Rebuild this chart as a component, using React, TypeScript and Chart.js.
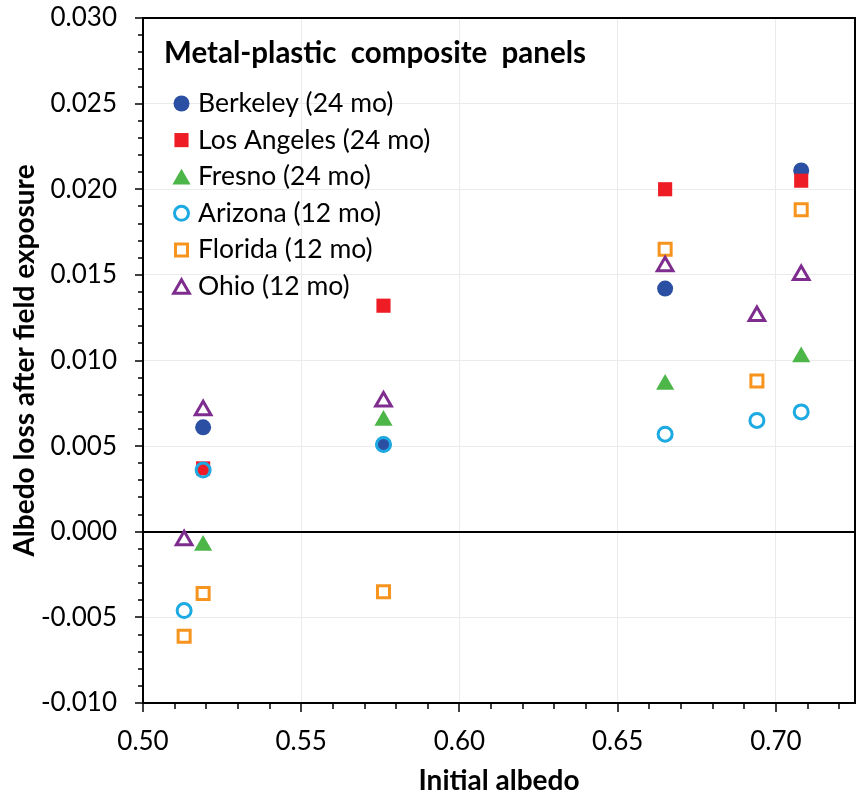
import React, { useEffect, useRef } from 'react';
import { Chart, registerables } from 'chart.js';

Chart.register(...registerables);

// Series labels, in legend order
const seriesNames = [
  'Berkeley (24 mo)',
  'Los Angeles (24 mo)',
  'Fresno (24 mo)',
  'Arizona (12 mo)',
  'Florida (12 mo)',
  'Ohio (12 mo)',
];

// Initial albedo (x) and albedo loss after exposure (y) per site
const berkeleyX = [0.519, 0.576, 0.665, 0.708];
const berkeleyY = [0.0061, 0.0051, 0.0142, 0.0211];

const losAngelesX = [0.519, 0.576, 0.665, 0.708];
const losAngelesY = [0.0037, 0.0132, 0.02, 0.0205];

const fresnoX = [0.519, 0.576, 0.665, 0.708];
const fresnoY = [-0.0008, 0.0065, 0.0086, 0.0102];

const arizonaX = [0.513, 0.519, 0.576, 0.665, 0.694, 0.708];
const arizonaY = [-0.0046, 0.0036, 0.0051, 0.0057, 0.0065, 0.007];

const floridaX = [0.513, 0.519, 0.576, 0.665, 0.694, 0.708];
const floridaY = [-0.0061, -0.0036, -0.0035, 0.0165, 0.0088, 0.0188];

const ohioX = [0.513, 0.519, 0.576, 0.665, 0.694, 0.708];
const ohioY = [-0.0005, 0.0071, 0.0076, 0.0155, 0.0126, 0.015];

const legendTitle = 'Metal-plastic  composite  panels';
const xTitle = 'Initial albedo';
const yTitle = 'Albedo loss after field exposure';

const FONT = 'Lato';

type MarkerStyle = 'circle' | 'rect' | 'triangle';
interface Marker {
  style: MarkerStyle;
  color: string;
  filled: boolean;
  radius: number;
}

const markers: Marker[] = [
  { style: 'circle', color: '#2B4FA2', filled: true, radius: 8 },
  { style: 'rect', color: '#EE1D25', filled: true, radius: 10 },
  { style: 'triangle', color: '#4CB748', filled: true, radius: 10.5 },
  { style: 'circle', color: '#1DA9E1', filled: false, radius: 7 },
  { style: 'rect', color: '#F7941E', filled: false, radius: 8.5 },
  { style: 'triangle', color: '#7E2C8E', filled: false, radius: 9 },
];
const OPEN_STROKE = 3;

const seriesX = [berkeleyX, losAngelesX, fresnoX, arizonaX, floridaX, ohioX];
const seriesY = [berkeleyY, losAngelesY, fresnoY, arizonaY, floridaY, ohioY];

const isMajorX = (v: number) => Math.round(v * 100) % 5 === 0;
const isMajorY = (v: number) => Math.round(v * 1000) % 5 === 0;

function drawMarker(ctx: CanvasRenderingContext2D, m: Marker, x: number, y: number) {
  const r = m.radius;
  ctx.beginPath();
  if (m.style === 'circle') {
    ctx.arc(x, y, r, 0, Math.PI * 2);
  } else if (m.style === 'rect') {
    const s = r * Math.SQRT1_2;
    ctx.rect(x - s, y - s, 2 * s, 2 * s);
  } else {
    ctx.moveTo(x, y - r);
    ctx.lineTo(x + r * Math.sin((2 * Math.PI) / 3), y + r / 2);
    ctx.lineTo(x - r * Math.sin((2 * Math.PI) / 3), y + r / 2);
    ctx.closePath();
  }
  if (m.filled) {
    ctx.fillStyle = m.color;
    ctx.fill();
  } else {
    ctx.strokeStyle = m.color;
    ctx.lineWidth = OPEN_STROKE;
    ctx.lineJoin = 'miter';
    ctx.stroke();
  }
}

// Tick marks, plot frame and the in-plot legend
const decorPlugin = {
  id: 'decor',
  afterDraw(chart: any) {
    const { ctx, chartArea: a, scales } = chart;
    const xs = scales.x;
    const ys = scales.y;
    ctx.save();
    ctx.strokeStyle = '#000';
    ctx.lineWidth = 1.5;
    xs.ticks.forEach((t: any) => {
      const px = Math.round(xs.getPixelForValue(t.value));
      const len = isMajorX(t.value) ? 9 : 6;
      ctx.beginPath();
      ctx.moveTo(px, a.bottom);
      ctx.lineTo(px, a.bottom + len);
      ctx.stroke();
    });
    ys.ticks.forEach((t: any) => {
      const py = Math.round(ys.getPixelForValue(t.value));
      const len = isMajorY(t.value) ? 8 : 5;
      ctx.beginPath();
      ctx.moveTo(a.left, py);
      ctx.lineTo(a.left - len, py);
      ctx.stroke();
    });
    ctx.lineWidth = 2;
    ctx.strokeRect(a.left, a.top, a.right - a.left, a.bottom - a.top);

    // legend
    ctx.fillStyle = '#000';
    ctx.textBaseline = 'middle';
    ctx.textAlign = 'left';
    ctx.font = `bold 29.5px ${FONT}`;
    ctx.fillText(legendTitle, a.left + 21, a.top + 35);
    ctx.font = `26.5px ${FONT}`;
    seriesNames.forEach((name, i) => {
      const cy = a.top + 85.5 + i * 36.6;
      const m = markers[i];
      const my = m.style === 'triangle' ? cy + m.radius / 4 : cy;
      drawMarker(ctx, m, a.left + 38.5, my);
      ctx.fillStyle = '#000';
      ctx.fillText(name, a.left + 55, cy);
    });
    ctx.restore();
  },
};

export default function App() {
  const canvasRef = useRef<HTMLCanvasElement | null>(null);

  useEffect(() => {
    const canvas = canvasRef.current;
    if (!canvas) return;

    const datasets = seriesNames.map((name, i) => {
      const m = markers[i];
      return {
        label: name,
        data: seriesX[i].map((x, j) => ({ x, y: seriesY[i][j] })),
        pointStyle: m.style,
        pointRadius: m.radius,
        pointHoverRadius: m.radius,
        pointBackgroundColor: m.filled ? m.color : 'rgba(0,0,0,0)',
        pointBorderColor: m.color,
        pointBorderWidth: m.filled ? 0 : OPEN_STROKE,
        showLine: false,
        // later series are painted on top of earlier ones
        order: seriesNames.length - i,
      };
    });

    const chart = new Chart(canvas, {
      type: 'scatter',
      data: { datasets },
      plugins: [decorPlugin],
      options: {
        animation: false,
        responsive: false,
        devicePixelRatio: 1,
        layout: { padding: { top: 18, right: 6, left: 0, bottom: 0 } },
        plugins: {
          legend: { display: false },
          tooltip: { enabled: false },
        },
        scales: {
          x: {
            type: 'linear',
            min: 0.5,
            max: 0.725,
            afterFit: (s: any) => {
              s.height = 95;
              s.paddingLeft = 0;
              s.paddingRight = 0;
            },
            border: { display: false },
            grid: {
              drawTicks: false,
              color: (c: any) => (c.tick && isMajorX(c.tick.value) ? '#EBEBEB' : 'rgba(0,0,0,0)'),
              lineWidth: 1,
            },
            ticks: {
              stepSize: 0.01,
              autoSkip: false,
              includeBounds: false,
              maxRotation: 0,
              padding: 23,
              color: '#000',
              font: { family: FONT, size: 26 },
              callback: (v: any) => (isMajorX(Number(v)) ? Number(v).toFixed(2) : ''),
            },
            title: {
              display: true,
              text: xTitle,
              color: '#000',
              font: { family: FONT, size: 28, weight: 'bold' },
              padding: { top: 0, bottom: 0 },
            },
          },
          y: {
            type: 'linear',
            min: -0.01,
            max: 0.03,
            afterFit: (s: any) => {
              s.width = 143;
              s.paddingTop = 0;
              s.paddingBottom = 0;
            },
            border: { display: false },
            grid: {
              drawTicks: false,
              color: (c: any) => {
                if (!c.tick) return 'rgba(0,0,0,0)';
                if (Math.abs(c.tick.value) < 1e-9) return '#000';
                return isMajorY(c.tick.value) ? '#EBEBEB' : 'rgba(0,0,0,0)';
              },
              lineWidth: (c: any) => (c.tick && Math.abs(c.tick.value) < 1e-9 ? 2 : 1),
            },
            ticks: {
              stepSize: 0.001,
              autoSkip: false,
              includeBounds: false,
              padding: 26,
              color: '#000',
              font: { family: FONT, size: 26 },
              callback: (v: any) => (isMajorY(Number(v)) ? Number(v).toFixed(3) : ''),
            },
            title: {
              display: true,
              text: yTitle,
              color: '#000',
              font: { family: FONT, size: 28, weight: 'bold' },
              padding: { top: 8, bottom: 0 },
            },
          },
        },
      },
    });

    return () => {
      chart.destroy();
    };
  }, []);

  return (
    <div style={{ position: 'fixed', left: 0, top: 0, width: 867, height: 798, background: '#fff' }}>
      <canvas ref={canvasRef} width={867} height={798} style={{ width: 867, height: 798, display: 'block' }} />
    </div>
  );
}
